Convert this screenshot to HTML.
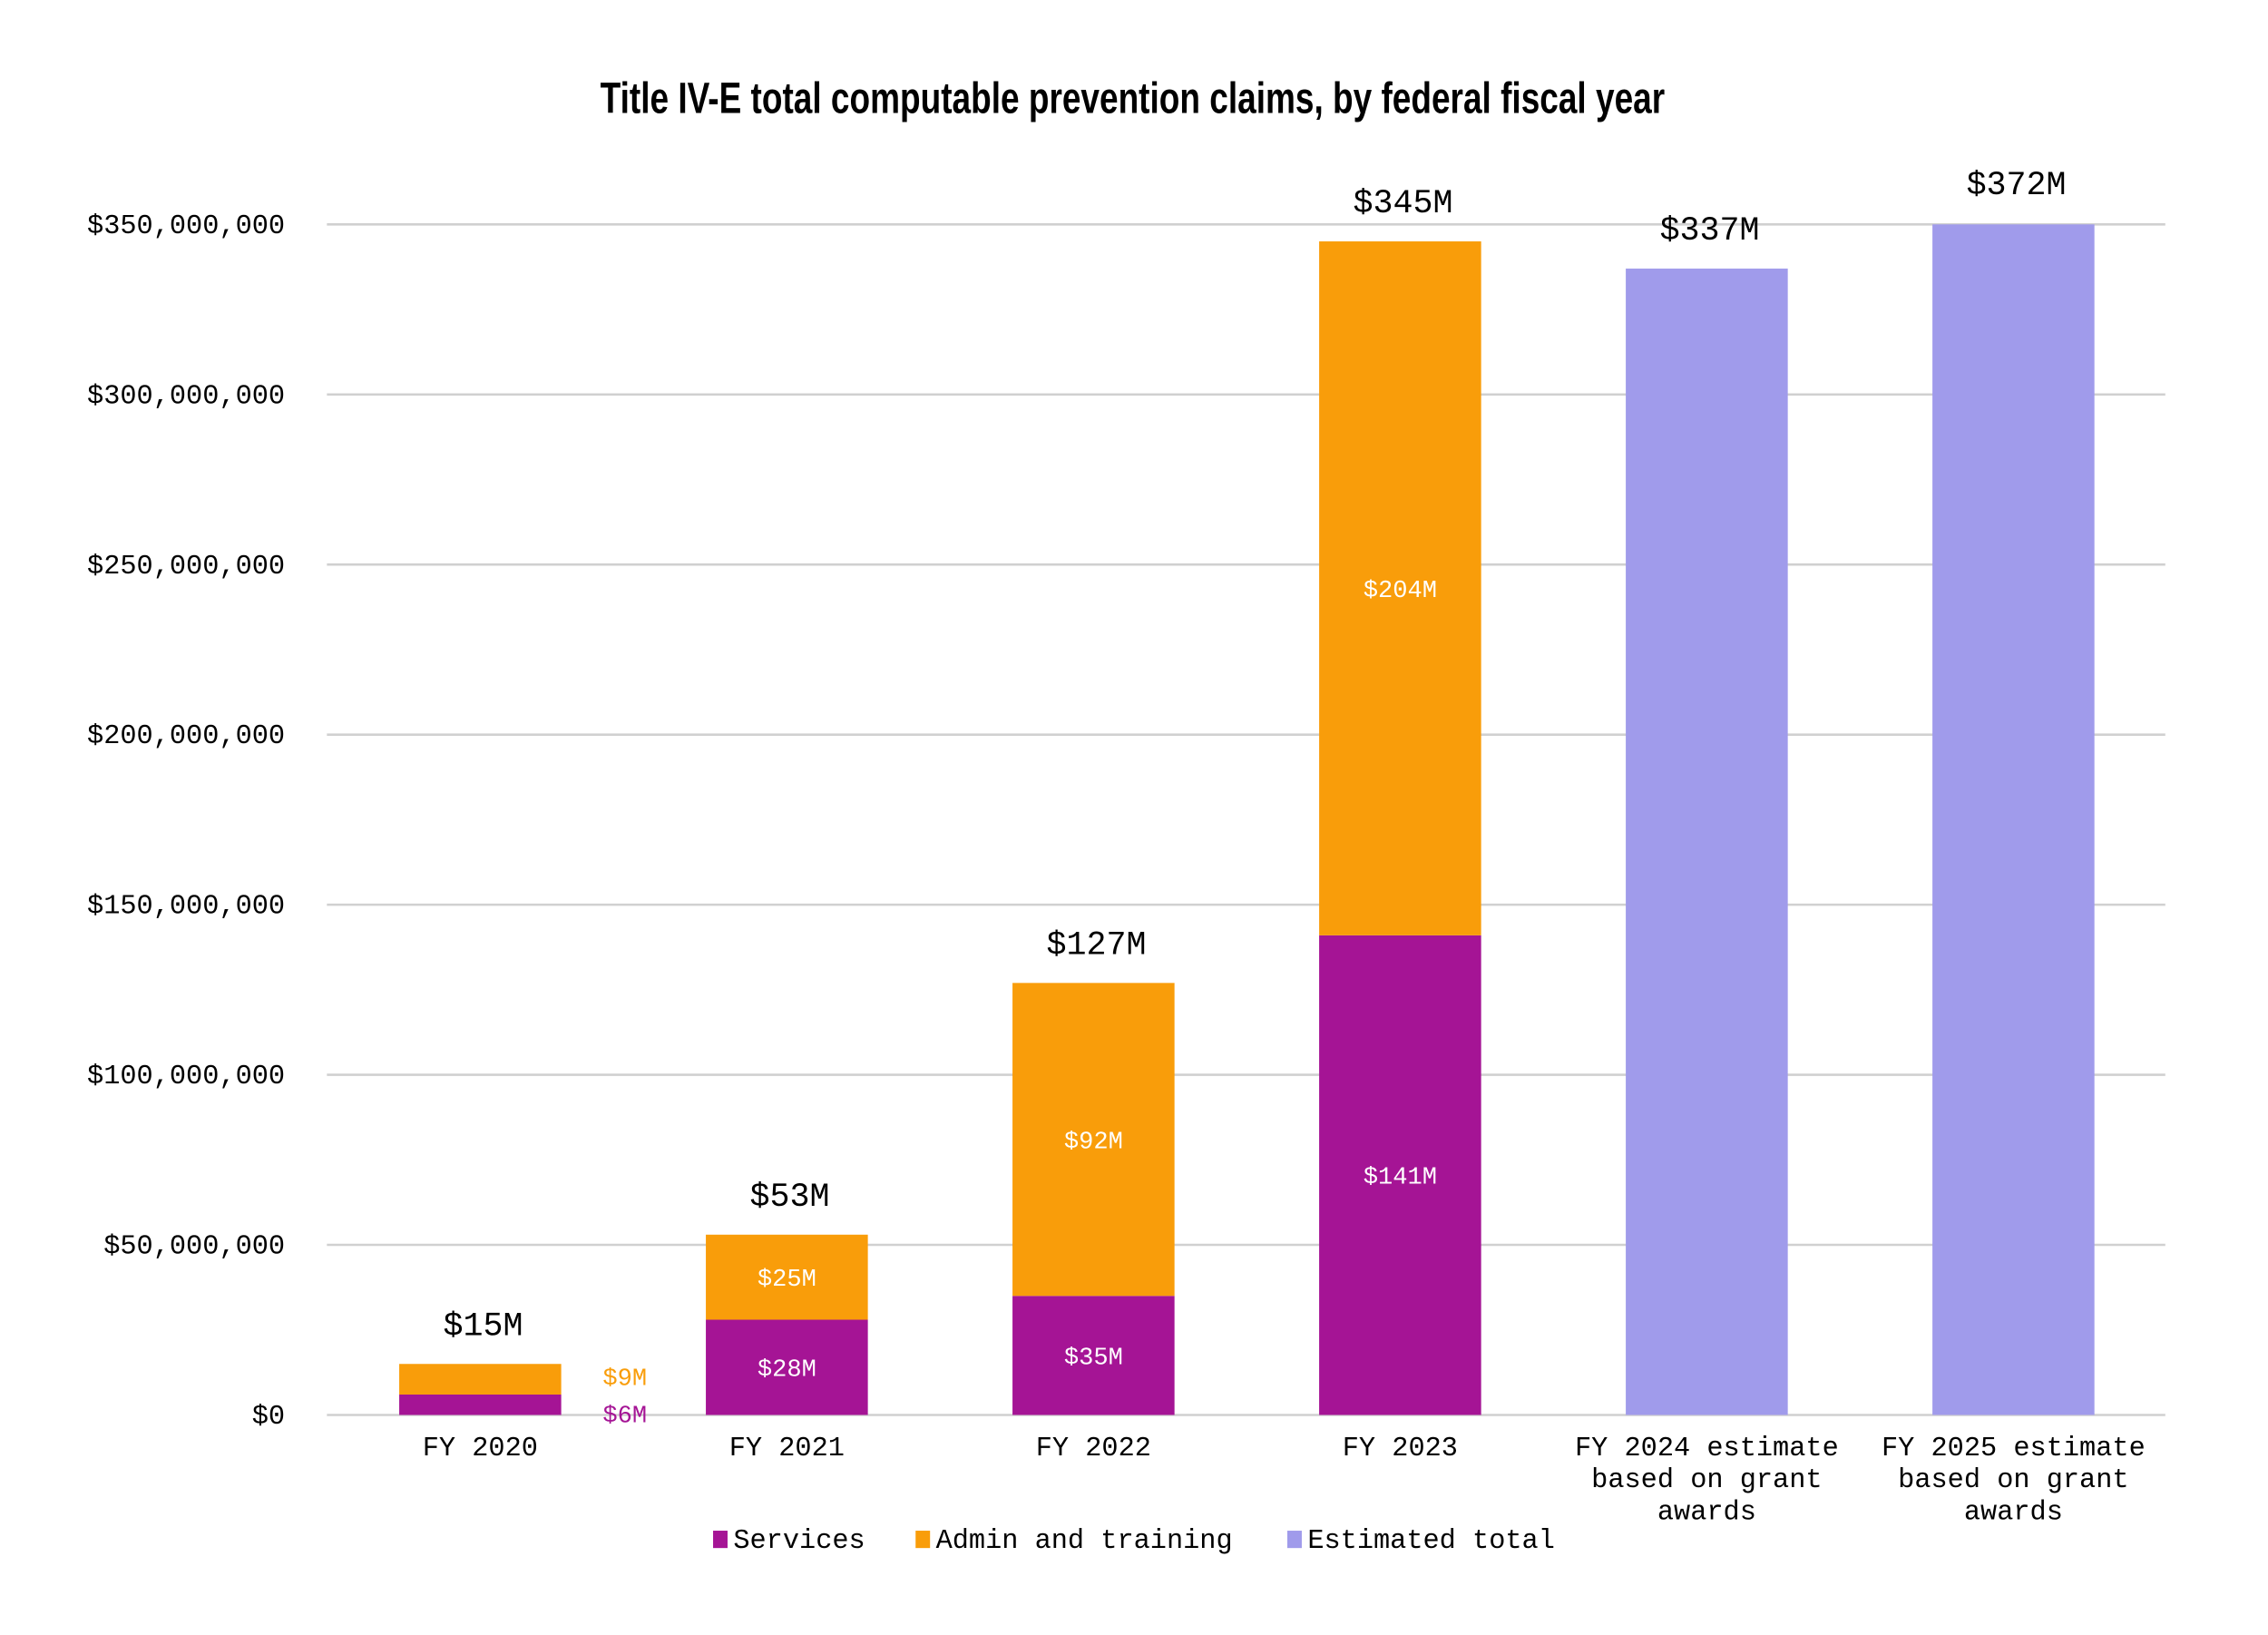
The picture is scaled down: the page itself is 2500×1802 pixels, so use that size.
<!DOCTYPE html>
<html><head><meta charset="utf-8">
<style>
html,body{margin:0;padding:0;background:#fff;}
svg{display:block;}
</style></head>
<body>
<svg id="chart" width="2500" height="1802" viewBox="0 0 1568 1130" xmlns="http://www.w3.org/2000/svg">
<rect width="1568" height="1130" fill="#fff"/>
<text x="783" y="78" text-anchor="middle" font-family="'Liberation Sans Narrow','Liberation Sans',sans-serif" font-size="30" font-weight="bold" textLength="736" lengthAdjust="spacingAndGlyphs" fill="#000">Title IV-E total computable prevention claims, by federal fiscal year</text>
<g id="grid"></g><g id="bars"></g><g id="labels"></g>
<g font-family="'Liberation Mono',monospace" font-size="19" fill="#000">
 <rect x="493" y="1058" width="10" height="12" fill="#A51495"/>
 <text x="507" y="1070">Services</text>
 <rect x="633" y="1058" width="10" height="12" fill="#F99D0A"/>
 <text x="647" y="1070">Admin and training</text>
 <rect x="890" y="1058" width="10" height="12" fill="#A09BEB"/>
 <text x="904" y="1070">Estimated total</text>
</g>
</svg>
<script>
const categories = [["FY 2020"],["FY 2021"],["FY 2022"],["FY 2023"],["FY 2024 estimate","based on grant","awards"],["FY 2025 estimate","based on grant","awards"]];
const services = [6, 28, 35, 141, 0, 0];
const admin = [9, 25, 92, 204, 0, 0];
const estimated = [0, 0, 0, 0, 337, 372];
const totalLabels = ["$15M","$53M","$127M","$345M","$337M","$372M"];
const tickValues = [0, 50, 100, 150, 200, 250, 300, 350];
const tickLabels = ["$0","$50,000,000","$100,000,000","$150,000,000","$200,000,000","$250,000,000","$300,000,000","$350,000,000"];

const NS = "http://www.w3.org/2000/svg";
const yMax = 350, y0 = 978, yTop = 155, plotL = 226, plotR = 1497;
const bandW = 212, x0 = 332, barW = 112;
function y(v){ return y0 - (Math.min(v, yMax) / yMax) * (y0 - yTop); }
function xc(i){ return x0 + i * bandW; }
function mk(tag, attrs, parent, txt){
  const e = document.createElementNS(NS, tag);
  for (const k in attrs) e.setAttribute(k, attrs[k]);
  if (txt !== undefined) e.textContent = txt;
  parent.appendChild(e); return e;
}
const grid = document.getElementById('grid');
const bars = document.getElementById('bars');
const labels = document.getElementById('labels');
const mono = "'Liberation Mono',monospace";

tickValues.forEach((t, i) => {
  const l = mk('line', {x1: plotL, x2: plotR, y1: y(t), y2: y(t), stroke: '#d0d0d0', 'stroke-width': 1.6}, grid);
  
  
  const tl = mk('text', {x: 197, y: y(t) + 6, 'text-anchor': 'end', 'font-family': mono, 'font-size': 19, fill: '#000'}, grid, tickLabels[i]);
  
  
});

categories.forEach((c, i) => {
  const cx = xc(i), left = cx - barW / 2;
  let top;
  if (estimated[i] > 0) {
    top = y(estimated[i]);
    const r = mk('rect', {x: left, y: top, width: barW, height: y0 - top, fill: '#A09BEB'}, bars);
    
    
  } else {
    const sTop = y(services[i]);
    const r1 = mk('rect', {x: left, y: sTop, width: barW, height: y0 - sTop, fill: '#A51495'}, bars);
    
    
    top = y(services[i] + admin[i]);
    const r2 = mk('rect', {x: left, y: top, width: barW, height: sTop - top, fill: '#F99D0A'}, bars);
    
    
    const small = (sTop - top) < 30;
    let t1, t2;
    if (small) {
      t2 = mk('text', {x: cx + 100, y: (top + sTop) / 2 + 4, 'text-anchor': 'middle', 'font-family': mono, 'font-size': 17, fill: '#F99D0A'}, labels, '$' + admin[i] + 'M');
      t1 = mk('text', {x: cx + 100, y: y0 + 5, 'text-anchor': 'middle', 'font-family': mono, 'font-size': 17, fill: '#A51495'}, labels, '$' + services[i] + 'M');
    } else {
      t2 = mk('text', {x: cx, y: (top + sTop) / 2 + 6, 'text-anchor': 'middle', 'font-family': mono, 'font-size': 17, fill: '#fff'}, labels, '$' + admin[i] + 'M');
      t1 = mk('text', {x: cx, y: (sTop + y0) / 2 + 6, 'text-anchor': 'middle', 'font-family': mono, 'font-size': 17, fill: '#fff'}, labels, '$' + services[i] + 'M');
    }
    
    
    
    
  }
  const tot = estimated[i] > yMax ? yTop - 21 : top - 20;
  const tl = mk('text', {x: cx + 2, y: tot, 'text-anchor': 'middle', 'font-family': mono, 'font-size': 23, fill: '#000'}, labels, totalLabels[i]);
  
  
  c.forEach((line, k) => {
    const xl = mk('text', {x: cx, y: 1006 + k * 22, 'text-anchor': 'middle', 'font-family': mono, 'font-size': 19, fill: '#000'}, labels, line);
    
    
  });
});
</script>
</body></html>
